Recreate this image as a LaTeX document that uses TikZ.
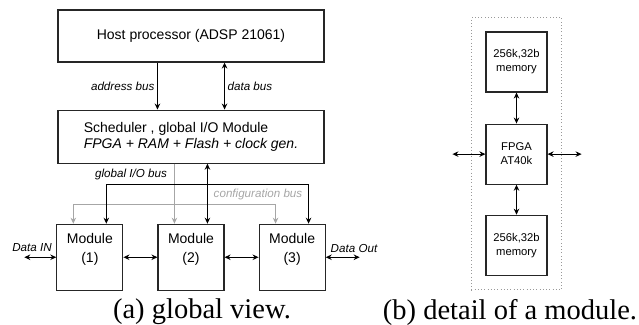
\documentclass[tikz,border=0pt]{standalone}
\usepackage{fontspec}
\setmainfont{Liberation Serif}
\setsansfont{Liberation Sans}
\usetikzlibrary{positioning,arrows.meta,calc,fit}

\begin{document}
\begin{tikzpicture}[
  x=0.4pt, y=-0.4pt,
  >={Stealth[length=2.4pt,width=2.2pt]},
  box/.style={draw=black!85, line width=0.45pt, align=center, inner sep=2pt, font=\sffamily\fontsize{5.6}{6.4}\selectfont},
  wide/.style={box, minimum width=106.4pt},
  module/.style={box, minimum width=26.4pt, minimum height=26.4pt},
  modlab/.style={align=center, yshift=3pt, inner sep=0pt, font=\sffamily\fontsize{5.6}{7.6}\selectfont},
  chip/.style={box, minimum width=24.4pt, minimum height=24pt, font=\sffamily\fontsize{4.5}{5.6}\selectfont},
  lab/.style={font=\sffamily\itshape\fontsize{4.65}{5.6}\selectfont, inner sep=1pt},
  arr/.style={line width=0.45pt},
  cfg/.style={arr, draw=black!35},
  subcap/.style={font=\fontsize{11.4}{13}\selectfont},
]
\useasboundingbox (0,0) rectangle (639,325);

% host and scheduler (left part)
\node[wide, minimum height=20.8pt] (host) at (191,36) {Host processor (ADSP 21061)};
\node[wide, minimum height=21.2pt, align=left, below=18.8pt of host] (sched) {Scheduler , global I/O Module\\ \textit{FPGA + RAM + Flash + clock gen.}};

% processing modules
\node[module, below=24pt of sched, label={[modlab]center:{Module\\(2)}}] (m2) {};
\node[module, left=13.6pt of m2, label={[modlab]center:{Module\\(1)}}] (m1) {};
\node[module, right=13.6pt of m2, label={[modlab]center:{Module\\(3)}}] (m3) {};

\draw[arr, ->] (host.south -| m2.west) -- node[lab, left] (adrlab) {address bus} (sched.north -| m2.west);
\draw[arr, <->] (host.south -| m2.east) -- node[lab, right] (datlab) {data bus} (sched.north -| m2.east);

% bus taps on top of each module
\foreach \i in {1,2,3} {
  \coordinate (c\i) at ($(m\i.north west)+(17,0)$);
  \coordinate (g\i) at ($(m\i.north west)+(50,0)$);
}

% configuration bus (grey)
\draw[cfg, ->] (sched.south -| c2) -- (c2);
\draw[cfg, <->] (c1) -- ++(0,-19) -| (c3);
\node[lab, text=black!35] (cfglab) at (258,194) {configuration bus};

% global I/O bus
\draw[arr, <->] (sched.south -| g2) -- (g2);
\draw[arr, <->] (g1) -- ++(0,-39) -| (g3);
\node[lab] (giolab) at (131,174) {global I/O bus};

% data chain through the modules
\coordinate[left=12.8pt of m1.west] (din);
\coordinate[right=13.6pt of m3.east] (dout);
\draw[arr, <->] (din) -- (m1.west);
\draw[arr, <->] (m1) -- (m2);
\draw[arr, <->] (m2) -- (m3);
\draw[arr, <->] (m3.east) -- (dout);
\node[lab] (dinlab) at (32,248) {Data IN};
\node[lab] (doutlab) at (354,248) {Data Out};

% one module in detail (right part)
\node[chip] (mem1) at (516.5,62) {256k,32b\\memory};
\node[chip, below=12.4pt of mem1] (fpga) {FPGA\\AT40k};
\node[chip, below=12pt of fpga] (mem2) {256k,32b\\memory};
\node[draw=black!40, densely dotted, line width=0.3pt, inner sep=5.6pt, fit=(mem1)(mem2)] (frame) {};
\draw[arr, <->] (mem1) -- (fpga);
\draw[arr, <->] (fpga) -- (mem2);
\coordinate[left=13.2pt of fpga.west] (fl);
\coordinate[right=13.6pt of fpga.east] (fr);
\draw[arr, <->] (fl) -- (fpga.west);
\draw[arr, <->] (fpga.east) -- (fr);

% sub-captions
\node[subcap] (capa) at (202,312) {(a) global view.};
\node[subcap] (capb) at (510,312) {(b) detail of a module.};
\end{tikzpicture}
\end{document}
